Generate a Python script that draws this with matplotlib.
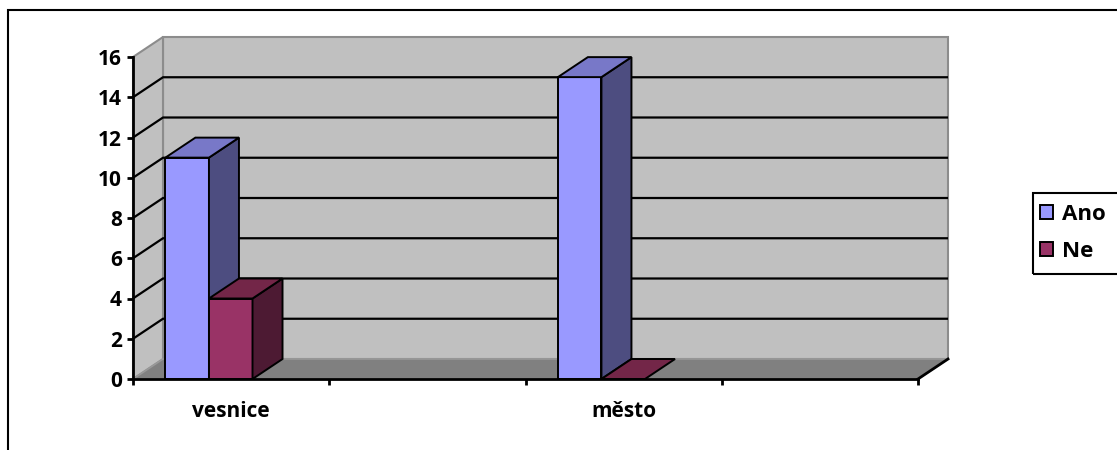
import numpy as np
import matplotlib
matplotlib.use('Agg')
import matplotlib.pyplot as plt
from matplotlib.patches import Polygon, Rectangle, Patch

# data
categories = ['vesnice', '', 'město', '']
ano = [11, np.nan, 15, np.nan]
ne = [4, np.nan, 0, np.nan]
series_names = ['Ano', 'Ne']
y_ticks = [0, 2, 4, 6, 8, 10, 12, 14, 16]

# front / top / side shades of each series
face_colors = ['#9999ff', '#993366']
top_colors = ['#7878c8', '#732648']
side_colors = ['#4d4d80', '#4d1a33']

plt.rcParams['font.family'] = ['Open Sans', 'DejaVu Sans']
plt.rcParams['font.weight'] = 'bold'
plt.rcParams['font.size'] = 15

W, H = 1117, 450
fig = plt.figure(figsize=(W / 100, H / 100), dpi=100)
ax = fig.add_axes([133 / W, 71 / H, 785 / W, 322 / H])
n_cat = len(categories)
ax.set_xlim(0, n_cat)
ax.set_ylim(0, y_ticks[-1])
ax.patch.set_visible(False)

# depth of the fake 3d box, 30 px right and 20 px up, in data units
dx = 30 * n_cat / ax.bbox.width
dy = 20 * y_ticks[-1] / ax.bbox.height
top = y_ticks[-1]

# walls and floor
ax.add_patch(Rectangle((dx, dy), n_cat, top, fc='#c0c0c0', ec='#8c8c8c',
                       lw=1.5, clip_on=False, zorder=0))
ax.add_patch(Polygon([(0, 0), (dx, dy), (dx, top + dy), (0, top)],
                     fc='#c0c0c0', ec='#8c8c8c', lw=1.5, clip_on=False, zorder=0))
ax.add_patch(Polygon([(0, 0), (n_cat, 0), (n_cat + dx, dy), (dx, dy)],
                     fc='#808080', ec='#999999', lw=1.2, clip_on=False, zorder=0.5))

for v in y_ticks[1:-1]:
    ax.plot([0, dx, n_cat + dx], [v, v + dy, v + dy], color='k', lw=1.6,
            clip_on=False, zorder=1, solid_capstyle='butt')

# bars
bar_w = 0.222
offset = 0.165
z = 2
for i in range(n_cat):
    for s, vals in enumerate([ano, ne]):
        h = vals[i]
        if np.isnan(h):
            continue
        x0 = i + offset + s * bar_w
        x1 = x0 + bar_w
        if h > 0:
            ax.add_patch(Rectangle((x0, 0), bar_w, h, fc=face_colors[s], ec='k',
                                   lw=1.4, clip_on=False, zorder=z))
            ax.add_patch(Polygon([(x1, 0), (x1 + dx, dy), (x1 + dx, h + dy), (x1, h)],
                                 fc=side_colors[s], ec='k', lw=1.4,
                                 clip_on=False, zorder=z))
        ax.add_patch(Polygon([(x0, h), (x1, h), (x1 + dx, h + dy), (x0 + dx, h + dy)],
                             fc=top_colors[s], ec='k', lw=1.4, clip_on=False, zorder=z))
        z += 1

# axes lines
for side in ['top', 'right']:
    ax.spines[side].set_visible(False)
for side in ['left', 'bottom']:
    ax.spines[side].set_linewidth(2)
    ax.spines[side].set_zorder(20)
ax.plot([n_cat, n_cat + dx], [0, dy], color='k', lw=2, clip_on=False, zorder=20)

ax.set_yticks(y_ticks)
ax.tick_params(axis='y', direction='out', length=4, width=2, pad=4)
ax.set_xticks(range(n_cat + 1))
ax.set_xticklabels([])
ax.tick_params(axis='x', which='major', direction='out', length=4, width=2)
ax.set_xticks(np.arange(n_cat) + 0.5, minor=True)
ax.set_xticklabels(categories, minor=True)
ax.tick_params(axis='x', which='minor', length=0, pad=15.5)

# chart border, runs off the right and bottom edges
fig.patches.append(Rectangle((8 / W, -0.1), 1.2, (H - 10) / H + 0.1,
                             transform=fig.transFigure, fill=False, ec='k', lw=1.5))

# legend box
fig.patches.append(Rectangle((1033 / W, (H - 274) / H), 0.2, 81 / H,
                             transform=fig.transFigure, fill=False, ec='k', lw=1.5))
handles = [Patch(fc=c, ec='k', lw=1.4) for c in face_colors]
fig.legend(handles, series_names, loc='upper left',
           bbox_to_anchor=(1040 / W, (H - 204) / H), frameon=False,
           borderpad=0, borderaxespad=0, handlelength=0.6, handleheight=0.6,
           handletextpad=0.4, labelspacing=0.7, fontsize=16)

fig.savefig('out.png', dpi=100)
